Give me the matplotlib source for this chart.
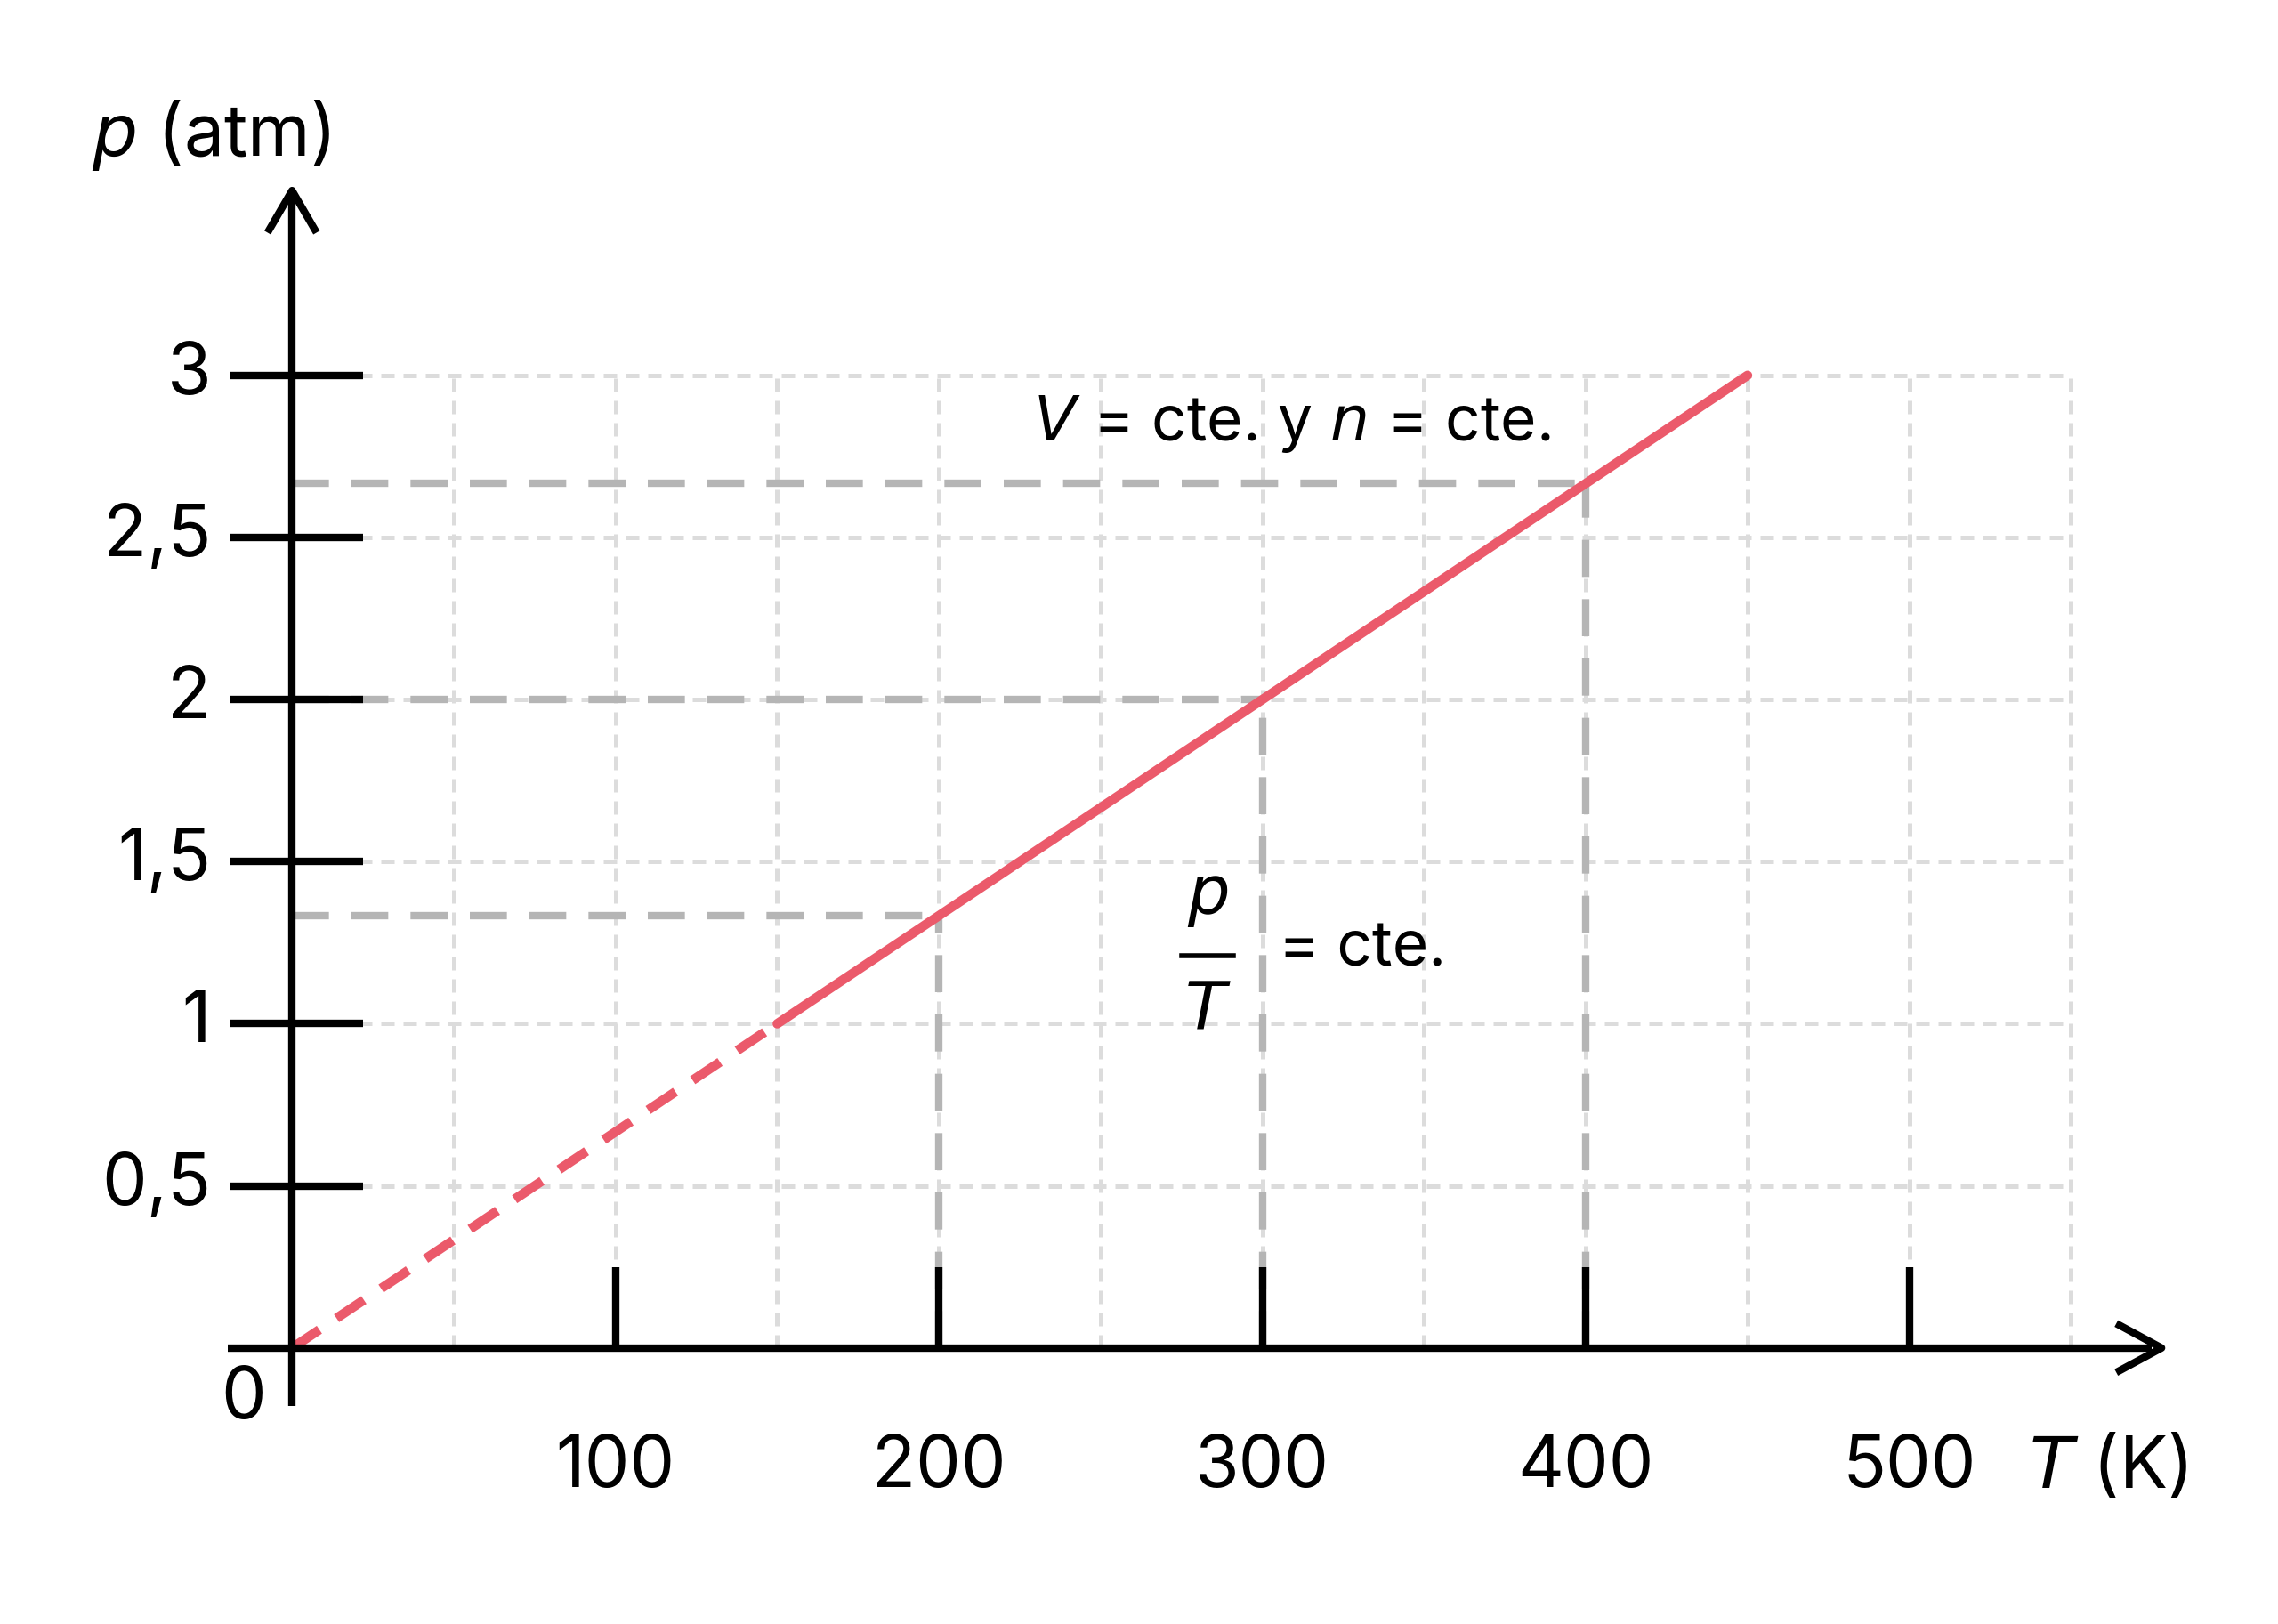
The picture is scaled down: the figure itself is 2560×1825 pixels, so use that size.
import numpy as np
import matplotlib.pyplot as plt

plt.rcParams['font.family'] = ['Inter', 'DejaVu Sans']

# data
T_line = [0, 150, 450]
p_line = [0, 1, 3]
guide_T = [200, 300, 400]
guide_p = [4 / 3, 2, 8 / 3]
x_ticks = [100, 200, 300, 400, 500]
x_labels = ['100', '200', '300', '400', '500']
y_ticks = [0.5, 1, 1.5, 2, 2.5, 3]
y_labels = ['0,5', '1', '1,5', '2', '2,5', '3']

# pixel scale of reference: 221.5 px per 100 K, 222 px per atm (in 1560 wide view)
sx, sy = 2.215, 222.0
W, H = 1560, 1112
x0, y0 = 200, 923

fig = plt.figure(figsize=(12.8, 9.125), dpi=200)
ax = fig.add_axes([0, 0, 1, 1])
ax.set_xlim(-x0 / sx, (W - x0) / sx)
ax.set_ylim((y0 - H) / sy, y0 / sy)
ax.axis('off')

grid_c = '#dcdcdc'
for t in np.arange(50, 551, 50):
    ax.plot([t, t], [0, 3], color=grid_c, lw=1.8, ls=(0, (3, 2)), zorder=1)
for p in np.arange(0.5, 3.01, 0.5):
    ax.plot([0, 550], [p, p], color=grid_c, lw=1.8, ls=(0, (3, 2)), zorder=1)

for t, p in zip(guide_T, guide_p):
    ax.plot([0, t], [p, p], color='#b5b5b5', lw=3, ls=(0, (5, 3)), zorder=2)
    ax.plot([t, t], [0, p], color='#b5b5b5', lw=3, ls=(0, (5, 3)), zorder=2)

red = '#eb5a6b'
ax.plot(T_line[:2], p_line[:2], color=red, lw=3.8, ls=(0, (3.5, 2.2)), zorder=4)
ax.plot(T_line[1:], p_line[1:], color=red, lw=3.8, solid_capstyle='round', zorder=4)

# axes
k = dict(color='black', lw=3, zorder=5, solid_capstyle='butt')
ax.plot([-20, 575], [0, 0], **k)
ax.plot([0, 0], [-0.18, 3.55], **k)
ax.plot([565, 578, 565], [0.07, 0, -0.07], color='black', lw=3, zorder=5)
ax.plot([-7, 0, 7], [3.45, 3.57, 3.45], color='black', lw=3, zorder=5)

fs = 29
for t, lab in zip(x_ticks, x_labels):
    ax.plot([t, t], [0, 0.25], **k)
    ax.text(t, -0.37, lab, ha='center', va='center', fontsize=fs)
for p, lab in zip(y_ticks, y_labels):
    ax.plot([-19, 22], [p, p], **k)
    ax.text(-25, p, lab, ha='right', va='center', fontsize=fs)
ax.text(-15, -0.16, '0', ha='center', va='center', fontsize=fs)

ax.text(-62, 3.74, r'$\it{p}$ (atm)', ha='left', va='center', fontsize=fs)
ax.text(537, -0.37, r'$\it{T}$ (K)', ha='left', va='center', fontsize=fs)
ax.text(229, 2.85, r'$\it{V}$ = cte. y $\it{n}$ = cte.', ha='left', va='center', fontsize=25)
ax.text(283, 1.39, r'$\it{p}$', ha='center', va='center', fontsize=27)
ax.plot([275, 291], [1.21, 1.21], color='black', lw=2)
ax.text(283, 1.04, r'$\it{T}$', ha='center', va='center', fontsize=27)
ax.text(305, 1.23, '= cte.', ha='left', va='center', fontsize=25)

fig.savefig('out.png', dpi=200)
